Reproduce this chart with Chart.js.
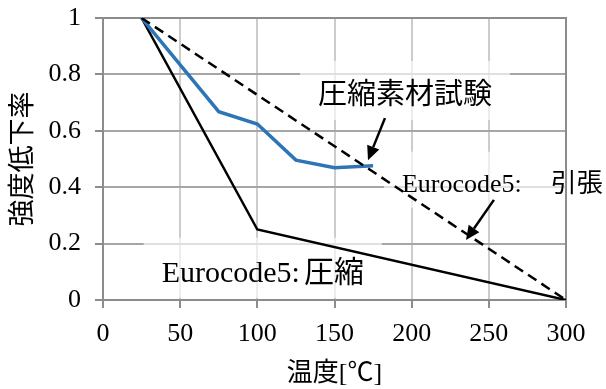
<!DOCTYPE html>
<html>
<head>
<meta charset="utf-8">
<script src="https://cdn.jsdelivr.net/npm/chart.js@4"></script>
<style>
body{margin:0;background:#fff}
</style>
</head>
<body>
<canvas id="grafico" width="606" height="389"></canvas>
<script>

let tempEnsaio=[25,75,100,125,150,175]
let razaoEnsaio=[1,0.668,0.624,0.496,0.469,0.476]

let tempCompressao=[25,100,300]
let razaoCompressao=[1,0.25,0]

let tempTracao=[25,300]
let razaoTracao=[1,0]

let ticksX=[0,50,100,150,200,250,300]
let ticksY=[0,0.2,0.4,0.6,0.8,1]
let rotulosY=['0','0.2','0.4','0.6','0.8','1']

let tituloX='温度[℃]'
let tituloY='強度低下率'

let fonte="'Liberation Serif','Noto Sans CJK JP',serif"

// rótulos e setas em coordenadas do gráfico
let rotulos=[
{texto:'圧縮素材試験',x:139.3,y:0.695,tam:29,gap:0},
{texto:'Eurocode5: 引張',x:193.7,y:0.384,tam:26,tamCJK:26,gap:29},
{texto:'Eurocode5: 圧縮',x:38,y:0.065,tam:30,tamCJK:30,gap:4}
]

let setas=[
{x1:182.7,y1:0.645,x2:171.7,y2:0.496},
{x1:253.3,y1:0.355,x2:235.2,y2:0.213}
]

function pontos(xs,ys){
return xs.map((v,i)=>({x:v,y:ys[i]}))
}

function caixaRotulo(ctx,r,sx,sy){
let px=sx.getPixelForValue(r.x)
let py=sy.getPixelForValue(r.y)
let partes=r.texto.split(' ')
ctx.font=`${r.tam}px ${fonte}`
let w=ctx.measureText(partes[0]).width
if(partes[1]){
ctx.font=`${r.tamCJK}px ${fonte}`
w+=r.gap+ctx.measureText(partes[1]).width
}
return {px,py,w,partes}
}

function desenhaSeta(ctx,x1,y1,x2,y2){
let a=Math.atan2(y2-y1,x2-x1)
let L=14
let W=6.5
let bx=x2-L*Math.cos(a)
let by=y2-L*Math.sin(a)
ctx.beginPath()
ctx.moveTo(x1,y1)
ctx.lineTo(bx,by)
ctx.stroke()
ctx.beginPath()
ctx.moveTo(x2,y2)
ctx.lineTo(bx+W*Math.sin(a),by-W*Math.cos(a))
ctx.lineTo(bx-W*Math.sin(a),by+W*Math.cos(a))
ctx.closePath()
ctx.fill()
}

let anotacoes={
id:'anotacoes',
beforeDatasetsDraw(chart){
let{ctx,chartArea:ca,scales:{x,y}}=chart
ctx.save()
ctx.fillStyle='rgba(255,255,255,0.65)'
rotulos.forEach(r=>{
let c=caixaRotulo(ctx,r,x,y)
ctx.fillRect(c.px-18,c.py-r.tam-14,c.w+36,r.tam+30)
})
ctx.strokeStyle='#8c8c8c'
ctx.lineWidth=2
ctx.strokeRect(ca.left,ca.top,ca.right-ca.left,ca.bottom-ca.top)
ctx.restore()
},
afterDatasetsDraw(chart){
let{ctx,scales:{x,y}}=chart
ctx.save()
ctx.fillStyle='#000'
ctx.strokeStyle='#000'
ctx.textBaseline='alphabetic'
ctx.textAlign='left'
rotulos.forEach(r=>{
let c=caixaRotulo(ctx,r,x,y)
ctx.font=`${r.tam}px ${fonte}`
ctx.fillText(c.partes[0],c.px,c.py)
if(c.partes[1]){
let w0=ctx.measureText(c.partes[0]).width
ctx.font=`${r.tamCJK}px ${fonte}`
ctx.fillText(c.partes[1],c.px+w0+r.gap,c.py)
}
})
ctx.lineWidth=2.5
setas.forEach(s=>{
desenhaSeta(
ctx,
x.getPixelForValue(s.x1),
y.getPixelForValue(s.y1),
x.getPixelForValue(s.x2),
y.getPixelForValue(s.y2)
)
})
ctx.restore()
}
}

new Chart(document.getElementById('grafico'),{
type:'scatter',
data:{
datasets:[
{
label:'圧縮素材試験',
data:pontos(tempEnsaio,razaoEnsaio),
showLine:true,
borderColor:'#2e75b6',
borderWidth:3.5,
pointRadius:0,
order:1
},
{
label:'Eurocode5: 引張',
data:pontos(tempTracao,razaoTracao),
showLine:true,
borderColor:'#000',
borderWidth:2.5,
borderDash:[10,6],
pointRadius:0,
order:0
},
{
label:'Eurocode5: 圧縮',
data:pontos(tempCompressao,razaoCompressao),
showLine:true,
borderColor:'#000',
borderWidth:2.5,
pointRadius:0,
order:2
}
]
},
options:{
responsive:false,
animation:false,
layout:{
padding:{left:0,right:40,top:18,bottom:0}
},
plugins:{
legend:{display:false},
tooltip:{enabled:false}
},
scales:{
x:{
type:'linear',
min:0,
max:300,
afterBuildTicks:s=>{s.ticks=ticksX.map(v=>({value:v}))},
afterFit:s=>{
s.height=89
s.paddingLeft=0
s.paddingRight=0
},
ticks:{
color:'#000',
font:{family:fonte,size:26},
padding:11,
maxRotation:0
},
grid:{
color:'#cccccc',
lineWidth:2,
tickLength:8,
tickColor:'#8c8c8c'
},
border:{color:'#8c8c8c',width:2},
title:{
display:true,
text:tituloX,
color:'#000',
font:{family:fonte,size:26,lineHeight:1},
padding:{top:0,bottom:2}
}
},
y:{
min:0,
max:1,
afterBuildTicks:s=>{s.ticks=ticksY.map(v=>({value:v}))},
afterFit:s=>{
s.width=103
s.paddingTop=0
s.paddingBottom=0
},
ticks:{
color:'#000',
font:{family:fonte,size:26},
padding:14,
callback:(v,i)=>rotulosY[i]
},
grid:{
color:'#a6a6a6',
lineWidth:2,
tickLength:8,
tickColor:'#8c8c8c'
},
border:{color:'#8c8c8c',width:2},
title:{
display:true,
text:tituloY,
color:'#000',
font:{family:fonte,size:27},
padding:{top:8,bottom:0}
}
}
}
},
plugins:[anotacoes]
})

</script>
</body>
</html>
